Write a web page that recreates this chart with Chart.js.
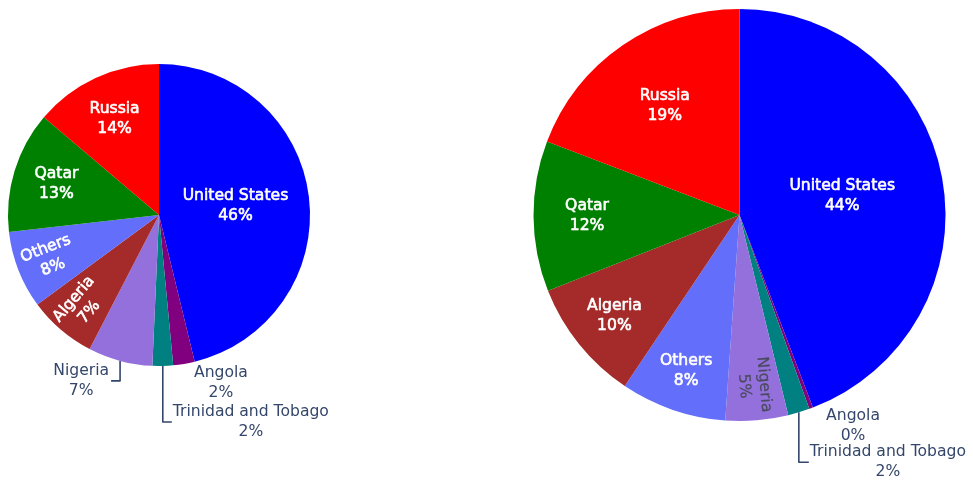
<!DOCTYPE html>
<html>
<head>
<meta charset="utf-8">
<script src="https://cdn.jsdelivr.net/npm/chart.js@4/dist/chart.umd.min.js"></script>
<style>
  html, body { margin: 0; padding: 0; background: #ffffff; }
  #wrap { position: relative; width: 973px; height: 483px; overflow: hidden; }
  #wrap canvas { position: absolute; top: 0; }
</style>
</head>
<body>
<div id="wrap">
  <canvas id="pieLeft" style="left:0px"></canvas>
  <canvas id="pieRight" style="left:486px"></canvas>
</div>
<script>
// Import shares by supplier, clockwise from 12 o'clock
const countriesLeft = ['United States', 'Angola', 'Trinidad and Tobago', 'Nigeria', 'Algeria', 'Others', 'Qatar', 'Russia'];
const sharesLeft    = [46.2, 2.3, 2.2, 6.9, 7.3, 8.3, 13.0, 13.8];

const countriesRight = ['United States', 'Angola', 'Trinidad and Tobago', 'Nigeria', 'Others', 'Algeria', 'Qatar', 'Russia'];
const sharesRight    = [44.2, 0.3, 1.7, 4.9, 8.3, 9.6, 11.8, 19.2];

const supplierColors = {
  'United States': '#0000ff',
  'Angola': '#800080',
  'Trinidad and Tobago': '#008080',
  'Nigeria': '#9370db',
  'Algeria': '#a52a2a',
  'Others': '#636efa',
  'Qatar': '#008000',
  'Russia': '#ff0000'
};

const FONT = '15.6px "DejaVu Sans", Verdana, sans-serif';
const LINE_H = 20;
const OUT_COLOR = '#34466a';

// Label placement per slice: inside at a fraction of the radius (optionally
// turned along the radius), or outside with an optional bracket leader.
const labelLayoutLeft = {
  'United States': { pos: 'in', r: 0.51 },
  'Russia': { pos: 'in', r: 0.70 },
  'Qatar': { pos: 'in', r: 0.71 },
  'Others': { pos: 'in', r: 0.78, radial: true },
  'Algeria': { pos: 'in', r: 0.79, radial: true },
  'Nigeria': { pos: 'out', drop: 20, run: -9 },
  'Trinidad and Tobago': { pos: 'out', drop: 56, run: 9 },
  'Angola': { pos: 'out', dx: 10, dy: 19 }
};
const labelLayoutRight = {
  'United States': { pos: 'in', r: 0.507 },
  'Russia': { pos: 'in', r: 0.64 },
  'Qatar': { pos: 'in', r: 0.74 },
  'Algeria': { pos: 'in', r: 0.78 },
  'Others': { pos: 'in', r: 0.80 },
  'Nigeria': { pos: 'in', r: 0.83, radial: true, color: '#4a4a5e' },
  'Angola': { pos: 'out', dx: 15, dy: 17.5 },
  'Trinidad and Tobago': { pos: 'out', drop: 50, run: 10 }
};

const sliceLabelPlugin = {
  id: 'sliceLabels',
  afterDatasetsDraw(chart, args, opts) {
    const ctx = chart.ctx;
    const meta = chart.getDatasetMeta(0);
    const data = chart.data.datasets[0].data;
    const total = data.reduce((a, b) => a + b, 0);
    const layout = opts.layout || {};
    ctx.save();
    ctx.font = FONT;
    ctx.textBaseline = 'middle';
    ctx.lineJoin = 'round';
    meta.data.forEach((arc, i) => {
      const name = chart.data.labels[i];
      const spec = layout[name];
      if (!spec) return;
      const lines = [name, Math.round(data[i] / total * 100) + '%'];
      const p = arc.getProps(['x', 'y', 'startAngle', 'endAngle', 'outerRadius'], true);
      const mid = (p.startAngle + p.endAngle) / 2;
      if (spec.pos === 'in') {
        const rr = p.outerRadius * spec.r;
        const cx = p.x + rr * Math.cos(mid);
        const cy = p.y + rr * Math.sin(mid);
        let rot = 0;
        if (spec.radial) {
          rot = Math.atan2(Math.sin(mid), Math.cos(mid));
          if (rot > Math.PI / 2) rot -= Math.PI;
          if (rot < -Math.PI / 2) rot += Math.PI;
        }
        ctx.save();
        ctx.translate(cx, cy);
        ctx.rotate(rot);
        const col = spec.color || '#ffffff';
        ctx.fillStyle = col;
        ctx.strokeStyle = col;
        ctx.lineWidth = spec.color ? 0.2 : 0.6;
        ctx.textAlign = 'center';
        lines.forEach((t, k) => {
          const y = (k - (lines.length - 1) / 2) * LINE_H;
          ctx.strokeText(t, 0, y);
          ctx.fillText(t, 0, y);
        });
        ctx.restore();
      } else {
        const px = p.x + p.outerRadius * Math.cos(mid);
        const py = p.y + p.outerRadius * Math.sin(mid);
        const w = Math.max(...lines.map(t => ctx.measureText(t).width));
        let left, cy;
        if (spec.drop !== undefined) {
          const ly = py + spec.drop;
          const lx = px + spec.run;
          ctx.strokeStyle = OUT_COLOR;
          ctx.lineWidth = 1.6;
          ctx.beginPath();
          ctx.moveTo(px, py);
          ctx.lineTo(px, ly);
          ctx.lineTo(lx, ly);
          ctx.stroke();
          left = spec.run < 0 ? lx - 2 - w : lx + 1;
          cy = ly;
        } else {
          left = px + spec.dx;
          cy = py + spec.dy;
        }
        ctx.fillStyle = OUT_COLOR;
        ctx.textAlign = 'center';
        lines.forEach((t, k) => ctx.fillText(t, left + w / 2, cy + (k - (lines.length - 1) / 2) * LINE_H));
      }
    });
    ctx.restore();
  }
};

function makePie(canvasId, width, labels, values, layout, padding, radius) {
  const el = document.getElementById(canvasId);
  el.width = width;
  el.height = 483;
  el.style.width = width + 'px';
  el.style.height = '483px';
  return new Chart(el, {
    type: 'pie',
    data: {
      labels: labels,
      datasets: [{
        data: values,
        backgroundColor: labels.map(n => supplierColors[n]),
        borderWidth: 0
      }]
    },
    options: {
      responsive: false,
      devicePixelRatio: 1,
      animation: false,
      events: [],
      radius: radius,
      layout: { padding: padding },
      plugins: {
        legend: { display: false },
        tooltip: { enabled: false },
        sliceLabels: { layout: layout }
      }
    },
    plugins: [sliceLabelPlugin]
  });
}

makePie('pieLeft', 486, countriesLeft, sharesLeft, labelLayoutLeft,
  { left: 0, right: 168, top: 0, bottom: 53 }, 151);
makePie('pieRight', 487, countriesRight, sharesRight, labelLayoutRight,
  { left: 20, right: 0, top: 0, bottom: 53 }, 206);
</script>
</body>
</html>
